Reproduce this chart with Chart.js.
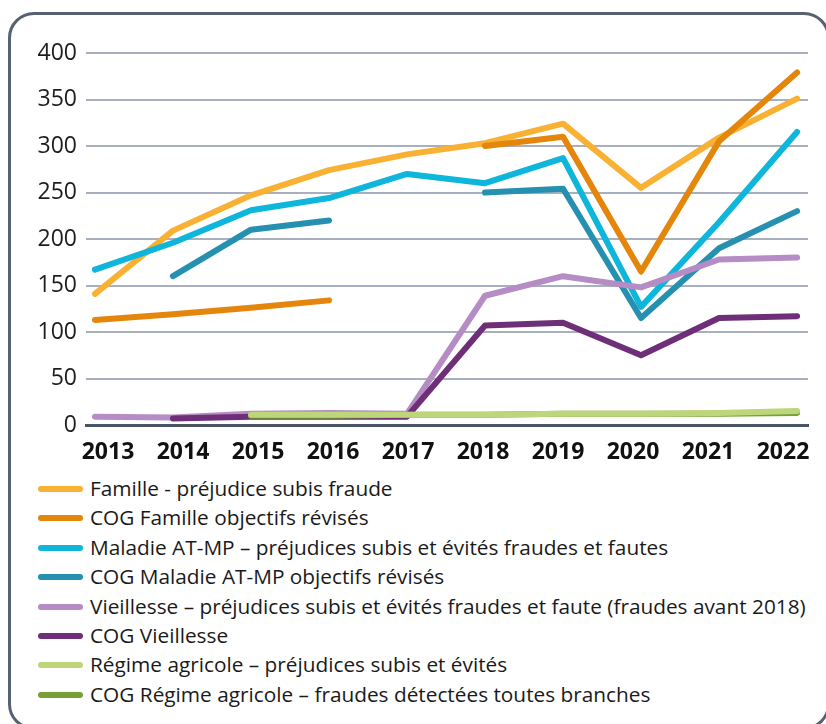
<!DOCTYPE html>
<html lang="fr">
<head>
<meta charset="utf-8">
<script src="https://cdn.jsdelivr.net/npm/chart.js@4.4.1/dist/chart.umd.min.js"></script>
<style>
    body { margin: 0; background: #fff; font-family: "Open Sans", sans-serif; }
    #cadre {
        position: absolute; left: 8px; top: 12px; width: 816px; height: 712px;
        border: 3px solid #586171; border-radius: 26px; box-sizing: content-box;
    }
    #zone { position: absolute; left: 0; top: 0; width: 826px; height: 472px; }
    #legende { position: absolute; left: 0; top: 474px; }
    .item { position: relative; height: 29.4px; line-height: 29.4px; font-size: 20.8px; color: #1a1a1a; white-space: nowrap; }
    .item span { position: absolute; left: 38px; top: 12px; width: 45px; height: 6px; border-radius: 3px; }
    .item b { position: absolute; left: 90px; font-weight: normal; }
</style>
</head>
<body>
<div id="cadre"></div>
<div id="zone"><canvas id="graphique"></canvas></div>
<div id="legende"></div>
<script>
// années et séries (millions d'euros)
const annees = [2013, 2014, 2015, 2016, 2017, 2018, 2019, 2020, 2021, 2022];
const familleFraude = [141, 209, 247, 274, 291, 303, 324, 255, 309, 351];
const cogFamille = [113, 119, 126, 134, null, 300, 310, 165, 305, 379];
const maladie = [167, 196, 231, 244, 270, 260, 287, 127, 218, 315];
const cogMaladie = [null, 160, 210, 220, null, 250, 254, 115, 190, 230];
const vieillesse = [9, 8, 12, 13, 12, 139, 160, 148, 178, 180];
const cogVieillesse = [null, 7, 9, 9, 9, 107, 110, 75, 115, 117];
const agricole = [null, null, 11, 11, 11, 11, 12, 12, 13, 15];
const cogAgricole = [null, null, 10, 10, 11, 11, 12, 12, 12, 13];
const ticksY = [0, 50, 100, 150, 200, 250, 300, 350, 400];

const series = [
    ['Famille - préjudice subis fraude', familleFraude, '#f8b133'],
    ['COG Famille objectifs révisés', cogFamille, '#e4860c'],
    ['Maladie AT-MP – préjudices subis et évités fraudes et fautes', maladie, '#0db6da'],
    ['COG Maladie AT-MP objectifs révisés', cogMaladie, '#2690b0'],
    ['Vieillesse – préjudices subis et évités fraudes et faute (fraudes avant 2018)', vieillesse, '#b58dc4'],
    ['COG Vieillesse', cogVieillesse, '#6e2f78'],
    ['Régime agricole – préjudices subis et évités', agricole, '#bcd679'],
    ['COG Régime agricole – fraudes détectées toutes branches', cogAgricole, '#76a035']
];
// ordre de dessin : les dernières séries au-dessus, sauf le vert foncé
const ordre = [8, 7, 6, 5, 4, 3, 1, 2];

const datasets = series.map(function(s, i) {
    return {
        label: s[0],
        data: annees.map(function(a, j) { return { x: a, y: s[1][j] }; }),
        borderColor: s[2],
        backgroundColor: s[2],
        borderWidth: 6,
        borderCapStyle: 'round',
        borderJoinStyle: 'round',
        pointRadius: 0,
        tension: 0,
        spanGaps: false,
        order: ordre[i]
    };
});

new Chart(document.getElementById('graphique'), {
    type: 'line',
    data: { datasets: datasets },
    options: {
        responsive: true,
        maintainAspectRatio: false,
        animation: false,
        layout: { padding: { top: 53, right: 18, left: 0, bottom: 0 } },
        plugins: { legend: { display: false }, tooltip: { enabled: false } },
        scales: {
            // axe des données : seulement la ligne de base
            x: {
                type: 'linear',
                min: 2012.885,
                max: 2022.14,
                weight: 0,
                afterBuildTicks: function(scale) { scale.ticks = annees.map(function(a) { return { value: a }; }); },
                afterFit: function(scale) { scale.height = 0; },
                grid: { display: false },
                border: { color: '#4b5462', width: 3 },
                ticks: { display: false }
            },
            // axe des libellés (années), un peu décalé comme dans l'original
            annees: {
                type: 'linear',
                position: 'bottom',
                min: 2012.707,
                max: 2022.333,
                weight: 1,
                afterBuildTicks: function(scale) { scale.ticks = annees.map(function(a) { return { value: a }; }); },
                afterFit: function(scale) { scale.height = 47; },
                grid: { display: false },
                border: { display: false },
                ticks: {
                    padding: 6,
                    maxRotation: 0,
                    color: '#111',
                    font: { family: 'Open Sans', size: 23, weight: 'bold' },
                    callback: function(v) { return String(v); }
                }
            },
            y: {
                min: 0,
                max: 400,
                afterBuildTicks: function(scale) { scale.ticks = ticksY.map(function(v) { return { value: v }; }); },
                afterFit: function(scale) { scale.width = 86; },
                grid: { color: '#a8afbe', lineWidth: 2, drawTicks: false },
                border: { display: false },
                ticks: {
                    padding: 9,
                    color: '#1d1d1d',
                    font: { family: 'Open Sans', size: 23 }
                }
            }
        }
    }
});

// légende
const legende = document.getElementById('legende');
series.forEach(function(s) {
    const ligne = document.createElement('div');
    ligne.className = 'item';
    ligne.innerHTML = '<span style="background:' + s[2] + '"></span><b>' + s[0] + '</b>';
    legende.appendChild(ligne);
});
</script>
</body>
</html>
